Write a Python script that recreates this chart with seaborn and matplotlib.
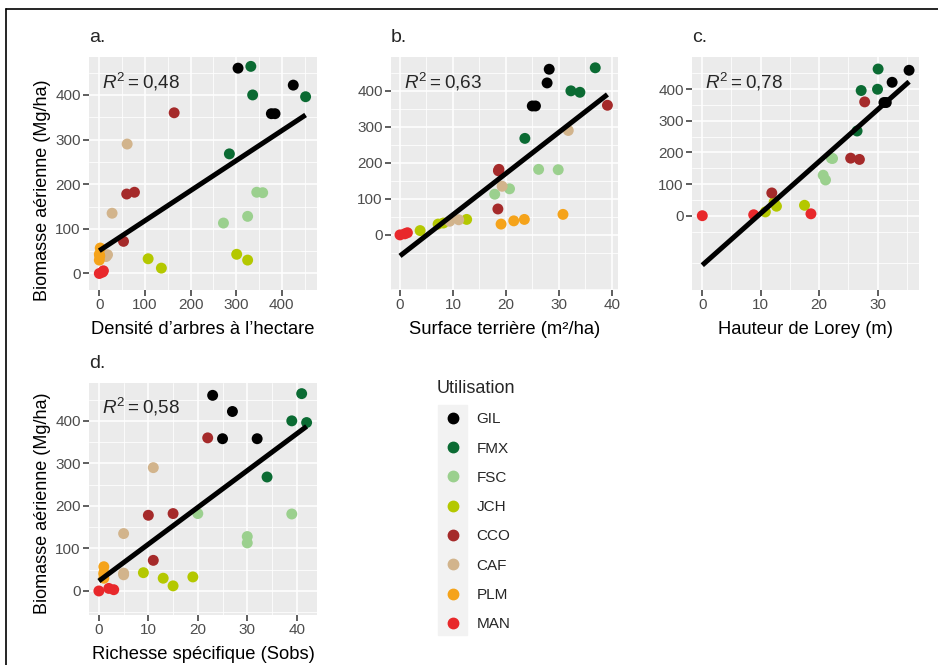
import numpy as np
import pandas as pd
import matplotlib
matplotlib.use("Agg")
import matplotlib.pyplot as plt
import seaborn as sns
from matplotlib.lines import Line2D
from matplotlib.patches import Rectangle

# données (une ligne par parcelle)
utilisation = ["GIL", "GIL", "GIL", "GIL",
               "FMX", "FMX", "FMX", "FMX",
               "FSC", "FSC", "FSC", "FSC",
               "JCH", "JCH", "JCH", "JCH",
               "CCO", "CCO", "CCO", "CCO",
               "CAF", "CAF", "CAF", "CAF",
               "PLM", "PLM", "PLM", "PLM",
               "MAN", "MAN", "MAN"]
biomasse = [460, 422, 358, 358,
            464, 400, 396, 268,
            182, 181, 128, 113,
            43, 33, 30, 12,
            360, 182, 178, 72,
            290, 135, 42, 38,
            57, 43, 39, 30,
            0, 6, 3]
densite = [304, 425, 377, 385,
           332, 336, 452, 285,
           345, 358, 325, 272,
           301, 107, 325, 136,
           164, 77, 60, 53,
           61, 28, 18, 15,
           2, 0, 1, 0,
           0, 9, 7]
surface = [28.2, 27.8, 25.0, 25.6,
           36.9, 32.3, 34.0, 23.6,
           26.2, 29.9, 20.7, 17.9,
           12.6, 8.2, 7.2, 3.8,
           39.2, 18.7, 18.6, 18.5,
           31.8, 19.3, 11.1, 9.4,
           30.8, 23.5, 21.5, 19.1,
           0.0, 1.4, 0.9]
lorey = [35.4, 32.5, 31.1, 31.5,
         30.1, 30.0, 27.2, 26.5,
         22.1, 22.3, 20.7, 21.1,
         12.3, 17.5, 12.7, 10.8,
         27.8, 25.4, 26.9, 11.9,
         np.nan, np.nan, np.nan, np.nan,
         np.nan, np.nan, np.nan, np.nan,
         0.0, 18.6, 8.8]
richesse = [23, 27, 25, 32,
            41, 39, 42, 34,
            20, 39, 30, 30,
            9, 19, 13, 15,
            22, 15, 10, 11,
            11, 5, 5, 5,
            1, 1, 1, 1,
            0, 2, 3]

categories = ["GIL", "FMX", "FSC", "JCH", "CCO", "CAF", "PLM", "MAN"]
r2_labels = ["0,48", "0,63", "0,78", "0,58"]
x_labels = ["Densité d’arbres à l’hectare", "Surface terrière (m²/ha)",
            "Hauteur de Lorey (m)", "Richesse spécifique (Sobs)"]
lettres = ["a.", "b.", "c.", "d."]

couleurs = ["#000000", "#0b6b33", "#9bd08e", "#b4c800",
            "#a52a2a", "#d2b48c", "#f5a31a", "#e8282b"]
palette = dict(zip(categories, couleurs))

df = pd.DataFrame({"utilisation": utilisation, "biomasse": biomasse,
                   "densite": densite, "surface": surface,
                   "lorey": lorey, "richesse": richesse})

sns.set_theme(style="darkgrid")
plt.rcParams['font.family'] = ['Liberation Sans', 'DejaVu Sans']
plt.rcParams['mathtext.fontset'] = 'custom'
plt.rcParams['mathtext.rm'] = 'Liberation Sans'
plt.rcParams['mathtext.it'] = 'Liberation Sans:italic'

W, H = 938, 665
fig = plt.figure(figsize=(W / 100, H / 100), dpi=100)
fig.patch.set_facecolor("white")


def axes_px(left, top, right, bottom):
    return fig.add_axes([left / W, 1 - bottom / H, (right - left) / W, (bottom - top) / H])


# position des panneaux en pixels, limites et graduations
panneaux = [
    dict(col="densite", pos=(89, 57, 317, 290), xlim=(-22.6, 477), ylim=(-37, 485),
         xt=[0, 100, 200, 300, 400], xm=50, ylab=0.43),
    dict(col="surface", pos=(391, 57, 618, 290), xlim=(-1.7, 41.2), ylim=(-153, 494),
         xt=[0, 10, 20, 30, 40], xm=5, ylab=None),
    dict(col="lorey", pos=(692, 57, 919, 290), xlim=(-1.76, 37.1), ylim=(-235, 502),
         xt=[0, 10, 20, 30], xm=5, ylab=None),
    dict(col="richesse", pos=(89, 383, 317, 615), xlim=(-2.0, 44.1), ylim=(-56.5, 489),
         xt=[0, 10, 20, 30, 40], xm=5, ylab=0.48),
]

for i, p in enumerate(panneaux):
    ax = axes_px(*p["pos"])
    ax.set_facecolor("#ebebeb")
    sns.scatterplot(data=df, x=p["col"], y="biomasse", hue="utilisation",
                    hue_order=categories, palette=palette, s=62, linewidth=0,
                    legend=False, ax=ax, zorder=3)
    sns.regplot(data=df, x=p["col"], y="biomasse", scatter=False, ci=None,
                color="black", ax=ax,
                line_kws=dict(lw=3.6, zorder=4, solid_capstyle="butt"))
    ax.set_xticks(p["xt"])
    ax.set_xticks(np.arange(p["xm"], p["xlim"][1], 2 * p["xm"]), minor=True)
    ax.set_yticks([0, 100, 200, 300, 400])
    ax.set_yticks(np.arange(-250, 500, 100), minor=True)
    ax.set_xlim(p["xlim"])
    ax.set_ylim(p["ylim"])
    ax.grid(which="major", color="white", lw=1.1)
    ax.grid(which="minor", color="white", lw=0.55)
    ax.set_axisbelow(True)
    for s in ax.spines.values():
        s.set_visible(False)
    ax.tick_params(which="major", length=4, width=1.1, color="#333333",
                   labelcolor="#4d4d4d", labelsize=11, pad=2,
                   bottom=True, left=True)
    ax.tick_params(which="minor", length=0)
    ax.set_xlabel(x_labels[i], fontsize=13.2, labelpad=6, color="black")
    if p["ylab"] is not None:
        ax.set_ylabel("Biomasse aérienne (Mg/ha)", fontsize=13, color="black")
        ax.yaxis.set_label_coords(-0.167, p["ylab"])
    else:
        ax.set_ylabel("")
    ax.set_title(lettres[i], loc="left", fontsize=14, pad=11)
    ax.text(0.057, 0.895, r"$R^2 = " + r2_labels[i].replace(",", "{,}") + "$",
            transform=ax.transAxes, fontsize=13.6, va="center", ha="left")

# légende
handles = [Line2D([], [], marker="o", ls="", color=c, markersize=7.5) for c in couleurs]
fig.legend(handles, categories, title="Utilisation", loc="upper left",
           bbox_to_anchor=(437 / W, 1 - 380 / H), frameon=False, fontsize=11,
           title_fontsize=13, labelspacing=1.0, handletextpad=0.5,
           borderpad=0, borderaxespad=0, alignment="left", handlelength=2.1)
fig.add_artist(Rectangle((438 / W, 1 - 635 / H), 29 / W, 230 / H,
                         transform=fig.transFigure, color="#f2f2f2", zorder=0))

# cadre
fig.add_artist(Line2D([6 / W, 6 / W], [0, 1 - 9 / H], transform=fig.transFigure,
                      color="black", lw=1.2))
fig.add_artist(Line2D([6 / W, 1], [1 - 9 / H, 1 - 9 / H], transform=fig.transFigure,
                      color="black", lw=1.2))

fig.savefig("out.png", dpi=100)
